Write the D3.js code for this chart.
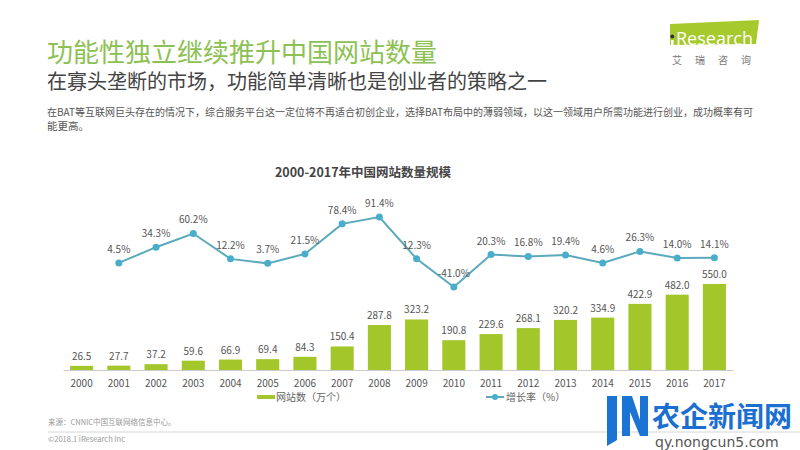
<!DOCTYPE html>
<html><head><meta charset="utf-8">
<script src="https://cdn.jsdelivr.net/npm/d3@7"></script>
<style>
html,body{margin:0;padding:0;background:#fff;}
svg{display:block;font-family:"Noto Sans CJK SC","Noto Sans",sans-serif;}
</style></head>
<body>
<svg id="c" width="800" height="450"></svg>
<script>
const years = ["2000","2001","2002","2003","2004","2005","2006","2007","2008","2009","2010","2011","2012","2013","2014","2015","2016","2017"];
const sites = [26.5,27.7,37.2,59.6,66.9,69.4,84.3,150.4,287.8,323.2,190.8,229.6,268.1,320.2,334.9,422.9,482.0,550.0];
const growth = [4.5,34.3,60.2,12.2,3.7,21.5,78.4,91.4,12.3,-41.0,20.3,16.8,19.4,4.6,26.3,14.0,14.1];
const growthYears = years.slice(1);
const barLegend = "网站数（万个）";
const lineLegend = "增长率（%）";

const svg = d3.select("#c");
const barColor = "#a3c72b", lineColor = "#4aaecb", lineStroke = "#5aa9bd";

// header
svg.append("text").attr("x",47).attr("y",62).attr("font-size",26).attr("fill","#8dc153").text("功能性独立继续推升中国网站数量");
svg.append("text").attr("x",47).attr("y",89).attr("font-size",20).attr("fill","#444").text("在寡头垄断的市场，功能简单清晰也是创业者的策略之一");
svg.append("text").attr("x",47).attr("y",116).attr("font-size",10.5).attr("fill","#555")
  .attr("textLength",706).attr("lengthAdjust","spacingAndGlyphs")
  .text("在BAT等互联网巨头存在的情况下，综合服务平台这一定位将不再适合初创企业，选择BAT布局中的薄弱领域，以这一领域用户所需功能进行创业，成功概率有可");
svg.append("text").attr("x",47).attr("y",130).attr("font-size",10.5).attr("fill","#555").text("能更高。");

// logo
svg.append("path").attr("d","M670,24 L759,20 L756,44 L670,45 Z").attr("fill","#a6c92b");
svg.append("rect").attr("x",671).attr("y",40).attr("width",2.6).attr("height",6).attr("fill","#fff");
svg.append("circle").attr("cx",672.3).attr("cy",36.5).attr("r",2).attr("fill","#333");
svg.append("text").attr("x",676).attr("y",45).attr("font-size",18).attr("fill","#fff").attr("font-family","Open Sans, sans-serif")
  .attr("textLength",77).attr("lengthAdjust","spacingAndGlyphs").text("Research");
svg.append("text").attr("x",672).attr("y",64).attr("font-size",10).attr("fill","#777").attr("letter-spacing",13).text("艾瑞咨询");

// chart title
svg.append("text").attr("x",363).attr("y",177).attr("text-anchor","middle").attr("font-size",12.5).attr("font-weight","bold").attr("fill","#444").text("2000-2017年中国网站数量规模");

// scales
const x = d3.scaleBand().domain(years).range([63,733]).paddingInner(0.38).paddingOuter(0.19);
const yBar = d3.scaleLinear().domain([0,550]).range([370,284]);
const yLine = d3.scaleLinear().domain([-41,91.4]).range([287,217]);

// bars
svg.append("g").selectAll("rect").data(sites).join("rect")
  .attr("x",(d,i)=>x(years[i])).attr("width",x.bandwidth())
  .attr("y",d=>yBar(d)).attr("height",d=>yBar(0)-yBar(d)).attr("fill",barColor);
svg.append("g").selectAll("text").data(sites).join("text")
  .attr("x",(d,i)=>x(years[i])+x.bandwidth()/2).attr("y",d=>yBar(d)-6)
  .attr("text-anchor","middle").attr("font-size",10).attr("fill","#555")
  .text(d=>d.toFixed(1));

// axis
const ax = svg.append("g").attr("transform","translate(0,370)").call(d3.axisBottom(x).tickSize(0).tickPadding(10));
ax.select(".domain").attr("stroke","#ccc");
ax.selectAll("text").attr("font-size",10).attr("fill","#555").attr("font-family","Noto Sans CJK SC, sans-serif");

// line
const cx = y => x(y)+x.bandwidth()/2;
svg.append("path").datum(growth)
  .attr("d",d3.line().x((d,i)=>cx(growthYears[i])).y(d=>yLine(d)))
  .attr("fill","none").attr("stroke",lineStroke).attr("stroke-width",2);
svg.append("g").selectAll("circle").data(growth).join("circle")
  .attr("cx",(d,i)=>cx(growthYears[i])).attr("cy",d=>yLine(d)).attr("r",3.5).attr("fill",lineColor);
svg.append("g").selectAll("text").data(growth).join("text")
  .attr("x",(d,i)=>cx(growthYears[i])).attr("y",d=>yLine(d)-10)
  .attr("text-anchor","middle").attr("font-size",10).attr("fill","#555")
  .text(d=>d.toFixed(1)+"%");

// legend
svg.append("rect").attr("x",257).attr("y",395).attr("width",18).attr("height",4).attr("fill",barColor);
svg.append("text").attr("x",276).attr("y",401).attr("font-size",10).attr("fill","#666").text(barLegend);
svg.append("line").attr("x1",486).attr("x2",504).attr("y1",397).attr("y2",397).attr("stroke",lineStroke).attr("stroke-width",2);
svg.append("circle").attr("cx",495).attr("cy",397).attr("r",3).attr("fill",lineColor);
svg.append("text").attr("x",506).attr("y",401).attr("font-size",10).attr("fill","#666").text(lineLegend);

// footer
svg.append("text").attr("x",48).attr("y",425).attr("font-size",7.5).attr("fill","#999").text("来源：CNNIC中国互联网络信息中心。");
svg.append("line").attr("x1",48).attr("x2",800).attr("y1",432).attr("y2",432).attr("stroke","#ccc").attr("stroke-width",0.8);
svg.append("text").attr("x",48).attr("y",442).attr("font-size",7.5).attr("fill","#999").text("©2018.1 iResearch Inc");

// watermark
const wm = svg.append("g");
wm.append("path").attr("d","M607,396 L617,396 L617,440 L607,446 Z M622,396 L632,396 L640,420 L640,396 L648,396 L648,436 L640,436 L630,412 L630,436 L622,436 Z").attr("fill","#1b73d3");
wm.append("text").attr("x",652).attr("y",427).attr("font-size",28).attr("font-weight","bold").attr("fill","#1b6fd0").text("农企新闻网");
wm.append("text").attr("x",655).attr("y",447).attr("font-size",14).attr("fill","#555").attr("font-family","DejaVu Sans, sans-serif").text("qy.nongcun5.com");
</script>
</body></html>
